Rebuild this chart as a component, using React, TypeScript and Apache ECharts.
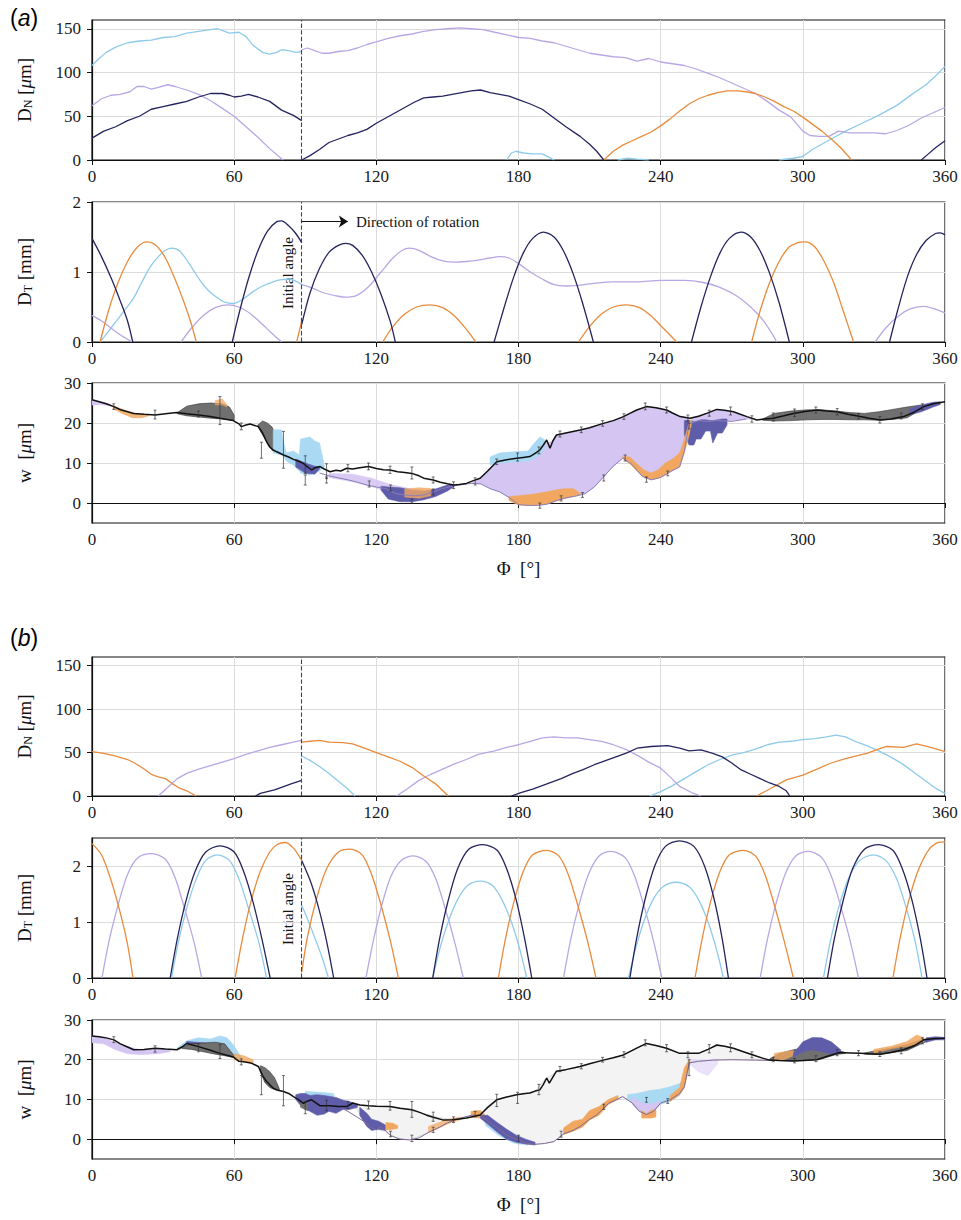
import React, { useEffect, useRef } from "react";
import * as echarts from "echarts";

type P = [number, number];
type B = [number, number, number];

// ---------------- axis ticks ----------------
const X_TICKS = [0, 60, 120, 180, 240, 300, 360];
const DN_TICKS = [0, 50, 100, 150];
const DT_TICKS = [0, 1, 2];
const W_TICKS = [0, 10, 20, 30];
const INITIAL_ANGLE = 88.5;

// ---------------- (a) D_N ----------------
const dnA_blue: P[][] = [
  [[0,108],[3,116],[6,123],[10,129],[15,134],[20,136],[25,137],[30,140],[35,141],[40,145],[45,147],[50,149],[53,150],[56,147],[58,145],[62,146],[65,141],[68,131],[72,123],[75,121],[78,123],[80,126],[83,125],[86,123],[88.5,124]],
  [[175,0],[177,8],[179,10],[182,8],[186,7],[190,7],[193,3],[195,0]],
  [[222,0],[226,2],[230,1],[235,0]],
  [[290,0],[296,2],[300,4],[304,12],[308,18],[312,24],[318,33],[325,42],[332,51],[340,63],[346,75],[352,86],[356,96],[360,107]],
];
const dnA_lav: P[][] = [
  [[0,62],[4,70],[8,74],[12,75],[16,78],[19,84],[22,84],[25,81],[28,83],[32,86],[35,84],[40,80],[45,75],[50,68],[55,59],[60,50],[65,38],[70,26],[75,13],[80.6,0]],
  [[88.5,126],[91,128],[94,125],[97,122],[100,122],[104,124],[108,125],[112,128],[116,132],[120,135],[125,139],[130,142],[135,144],[140,147],[145,149],[150,150],[155,151],[160,150],[165,149],[170,146],[175,143],[180,140],[185,139],[190,136],[195,134],[200,130],[205,126],[210,122],[215,120],[220,118],[225,117],[230,113],[235,116],[240,112],[245,110],[250,108],[255,104],[260,99],[265,94],[270,88],[275,82],[280,76],[285,67],[290,57],[295,49],[300,33],[303,28],[307,27],[311,27],[315,33],[320,31],[325,31],[330,31],[335,30],[340,34],[345,40],[350,48],[355,54],[360,60]],
];
const dnA_navy: P[][] = [
  [[0,25],[5,33],[10,38],[15,45],[20,50],[25,58],[30,61],[35,64],[40,67],[45,72],[50,76],[55,76],[58,74],[60,72],[63,73],[66,75],[70,72],[75,67],[80,57],[85,51],[88.5,45]],
  [[88.5,0],[92,5],[96,12],[100,20],[104,24],[108,28],[112,31],[116,35],[120,42],[124,48],[128,54],[132,60],[136,66],[140,71],[144,72],[148,73],[152,75],[156,77],[160,79],[164,80],[168,77],[172,75],[176,73],[180,69],[185,64],[190,58],[196,46],[200,38],[206,27],[210,18],[213,10],[216,0]],
  [[350,0],[353,7],[356,14],[360,22]],
];
const dnA_orange: P[][] = [
  [[216,0],[220,10],[224,17],[228,22],[232,27],[236,32],[240,39],[244,47],[248,56],[252,64],[256,70],[260,74],[264,77],[268,79],[272,79],[276,78],[280,76],[284,72],[288,67],[292,61],[296,56],[300,49],[304,41],[308,33],[312,24],[316,14],[320.6,0]],
];

// ---------------- (a) D_T ----------------
const dtA_navy: P[][] = [
  [[0,1.48],[4,1.22],[8,0.92],[12,0.58],[15,0.3],[17.2,0]],
  [[59.2,0],[62,0.4],[66,0.9],[70,1.3],[74,1.58],[78,1.72],[80,1.73],[83,1.66],[86,1.55],[88.5,1.42]],
  [[88.5,0.25],[92,0.7],[96,1.05],[100,1.28],[104,1.38],[107,1.41],[110,1.38],[114,1.24],[118,1.0],[122,0.68],[126,0.28],[128,0]],
  [[169.7,0],[174,0.5],[178,0.93],[182,1.27],[186,1.48],[190.5,1.57],[195,1.5],[199,1.3],[203,0.98],[207,0.56],[211.6,0]],
  [[253,0],[257,0.5],[261,0.93],[265,1.27],[269,1.48],[273.9,1.57],[278,1.5],[282,1.3],[286,0.98],[290,0.56],[294.3,0]],
  [[336.6,0],[340,0.45],[344,0.92],[348,1.25],[352,1.45],[356,1.55],[358,1.56],[360,1.53]],
];
const dtA_orange: P[][] = [
  [[3.4,0],[7,0.45],[11,0.85],[15,1.15],[19,1.35],[23,1.43],[27,1.38],[31,1.2],[35,0.9],[39,0.55],[42,0.25],[44,0]],
  [[86.4,0],[88.5,0.3]],
  [[122.7,0],[127,0.22],[132,0.4],[137,0.5],[142.7,0.53],[148,0.49],[153,0.37],[158,0.18],[162,0]],
  [[205.3,0],[210,0.22],[215,0.4],[220,0.5],[225.7,0.53],[231,0.49],[236,0.37],[241,0.2],[246.8,0]],
  [[278.4,0],[282,0.45],[286,0.85],[290,1.15],[294,1.35],[298,1.42],[301,1.43],[305,1.36],[309,1.15],[313,0.85],[317,0.45],[321.4,0]],
];
const dtA_blue: P[][] = [
  [[3.4,0],[8,0.2],[13,0.42],[17.4,0.62],[21,0.85],[24.5,1.07],[28,1.22],[31,1.31],[33.6,1.34],[37,1.3],[41,1.12],[45.6,0.88],[49,0.74],[52.6,0.64],[56,0.57],[59.6,0.55],[64,0.62],[68,0.72],[72,0.8],[76.5,0.86],[80,0.89],[83.6,0.9],[86,0.87],[88.5,0.82]],
];
const dtA_lav: P[][] = [
  [[0,0.38],[4,0.3],[8,0.2],[12,0.1],[17,0]],
  [[37.6,0],[42,0.2],[47,0.38],[52,0.49],[57,0.53],[62,0.5],[67,0.4],[72,0.25],[76,0.12],[80,0]],
  [[88.5,0.82],[93,0.77],[98,0.7],[103,0.66],[107,0.64],[112,0.67],[117,0.8],[122,1.0],[127,1.2],[131,1.31],[134,1.34],[138,1.31],[143,1.22],[148,1.16],[153,1.14],[158,1.15],[163,1.17],[168,1.2],[172,1.22],[176,1.2],[180,1.12],[185,1.0],[190,0.9],[195,0.82],[200,0.8],[205,0.81],[210,0.83],[220,0.86],[230,0.86],[240,0.88],[250,0.88],[258,0.85],[265,0.78],[272,0.66],[278,0.5],[283,0.32],[287,0.12],[289,0]],
  [[330.5,0],[335,0.2],[340,0.36],[345,0.47],[351,0.51],[355,0.48],[360,0.415]],
];

// ---------------- (b) D_N ----------------
const dnB_orange: P[][] = [
  [[0,51],[5,49],[10,46],[15,42],[18,38],[22,31],[25,25],[28,22],[31,20],[34,14],[37,9],[40,6],[44,0]],
  [[88.5,62],[92,63],[96,64],[100,62],[106,61.5],[110,60],[115,55],[120,50],[125,45],[130,40],[135,33],[140,23],[145,14],[150.4,0]],
  [[280.5,0],[286,8],[293,18.5],[300,24],[306,31],[311.6,37.7],[318,43],[327,49],[331,53],[335.4,57],[342.5,56],[348,60],[354,56],[360,51]],
];
const dnB_lav: P[][] = [
  [[28,0],[32,10],[36,20],[40,26],[45,31],[50,35],[55,39],[60,43],[65,48],[70,52],[75,56],[80,59],[85,62],[88.5,64]],
  [[128.5,0],[133,8],[138,18],[143,25],[148,31],[153,37],[158,42],[163,48],[170,52],[175,56],[180,59],[185,63],[190,67],[195,68],[200,67],[205,67],[210,65],[215,63],[220,59],[225,54],[230,47],[235,39],[240,32],[244,22],[248,11],[253,4],[257,0]],
];
const dnB_navy: P[][] = [
  [[69,0],[71,3],[74,5],[77,7],[80,10],[84,14],[88.5,18]],
  [[177,0],[181,4],[186,8],[192,14],[198,20],[203,26],[207,30],[212,36],[217,41],[222,46],[226,50],[230,55],[236,57],[243,58],[248,55],[252,52],[257,53],[262,49],[266,45],[270,38],[274,30],[278,25],[282,20],[286,15],[290,11],[293,6],[294.5,0]],
];
const dnB_blue: P[][] = [
  [[88.5,46],[92,41],[96,34],[100,26],[104,17],[108,8],[111,0]],
  [[235.5,0],[240,5],[245,12],[250,20],[255,28],[260,36],[265,42],[270,47],[275,50],[280,54],[285,59],[290,62],[295,63],[300,65],[305,66],[310,68],[314,70],[318,68],[322,63],[327,58],[332,52],[337,45],[342,37],[347,27],[352,17],[356,9],[360,3]],
];

// ---------------- (b) D_T ----------------
const dtB_orange: P[][] = [
  [[0,2.4],[4,2.2],[8,1.75],[12,1.15],[15,0.6],[17.3,0]],
  [[60.4,0],[63.5,0.7],[67,1.35],[71,1.9],[75,2.25],[78,2.38],[81.5,2.42],[85,2.32],[88.5,2.1]],
  [[88.5,0.1],[91,0.75],[95,1.45],[99,1.95],[104,2.25],[109,2.3],[114,2.2],[118,1.85],[122,1.3],[126,0.65],[129.3,0]],
  [[171.5,0],[174.5,0.7],[178,1.35],[182,1.9],[186,2.2],[192,2.28],[197,2.18],[201,1.85],[205,1.3],[209,0.68],[212.7,0]],
  [[254.5,0],[257.5,0.7],[261,1.35],[265,1.9],[269,2.2],[275,2.28],[280,2.18],[284,1.85],[288,1.3],[292,0.68],[296,0]],
  [[338,0],[341,0.7],[344.5,1.35],[348.5,1.9],[352.5,2.25],[356,2.4],[360,2.43]],
];
const dtB_lav: P[][] = [
  [[4.2,0],[7.3,0.68],[11,1.3],[15,1.85],[19.5,2.15],[25.2,2.22],[31,2.12],[35,1.8],[39,1.25],[43,0.65],[46.3,0]],
  [[115.6,0],[118.7,0.66],[122,1.25],[126,1.8],[130.5,2.1],[135.7,2.18],[141,2.08],[145,1.78],[149,1.25],[153,0.65],[156.7,0]],
  [[199,0],[202,0.68],[205.5,1.3],[209.5,1.85],[214,2.18],[219,2.26],[225,2.15],[229,1.82],[233,1.28],[237,0.66],[240.5,0]],
  [[282,0],[285,0.68],[288.5,1.3],[292.5,1.85],[297,2.18],[302.4,2.26],[308,2.15],[312,1.82],[316,1.28],[320,0.66],[323.5,0]],
];
const dtB_navy: P[][] = [
  [[33,0],[36,0.7],[39.5,1.35],[43.5,1.9],[48,2.25],[54,2.36],[60,2.25],[64,1.9],[68,1.35],[71.7,0.7],[75.2,0]],
  [[88.5,2.1],[92,1.75],[95,1.35],[98,0.85],[100,0.45],[102,0]],
  [[143.8,0],[146.8,0.72],[150.3,1.38],[154.3,1.95],[159,2.3],[165,2.38],[171,2.28],[175,1.95],[179,1.4],[182.5,0.72],[185.6,0]],
  [[227,0],[230,0.74],[233.5,1.42],[237.5,2.0],[242,2.35],[248,2.45],[254,2.35],[258.5,2.0],[262.5,1.42],[265.8,0.74],[268.6,0]],
  [[310.4,0],[313.4,0.72],[317,1.38],[321,1.95],[326,2.3],[332,2.38],[338,2.28],[342,1.95],[346,1.4],[349.5,0.72],[352.4,0]],
];
const dtB_blue: P[][] = [
  [[33.6,0],[36.5,0.65],[40,1.25],[44,1.77],[48,2.1],[52.9,2.2],[58,2.1],[62,1.77],[66,1.25],[70.3,0.65],[73.7,0]],
  [[88.5,1.3],[91,1.05],[94,0.72],[97,0.38],[99.8,0]],
  [[143.8,0],[146.8,0.52],[150.3,1.0],[154.3,1.4],[158.5,1.65],[163.8,1.73],[169,1.65],[173,1.4],[177,1.0],[180.5,0.52],[183.5,0]],
  [[226.4,0],[229.4,0.52],[232.8,1.0],[236.8,1.4],[241,1.63],[246.5,1.71],[252,1.63],[256,1.4],[260,1.0],[263.5,0.52],[266.5,0]],
  [[308.7,0],[311.7,0.67],[315.2,1.27],[319.3,1.78],[324,2.1],[329.8,2.2],[335,2.1],[339.5,1.78],[343.5,1.27],[347.3,0.67],[350.3,0]],
];

// ---------------- (a) w ----------------
const wA_black: P[] = [[0,25.8],[3,25.3],[6,24.8],[9.2,24.1],[12,23.3],[15,22.8],[17.6,22.4],[22,22.2],[26.6,22],[31,22.3],[35.8,22.6],[40,22.3],[44.9,22],[50,21.6],[54,21.2],[57,20.9],[59.6,20.6],[62,19.8],[63,19.1],[65,19.5],[66.7,19.75],[68,19.5],[70.2,19.1],[72,17.5],[73.7,15.3],[75,14],[76.5,13.25],[78,12.8],[80.8,12],[83,11.5],[85,10.9],[87,10.5],[89.2,9.9],[91,9],[92.7,8.25],[94,8.8],[96.3,9.1],[98,8.5],[100.5,7.8],[103,8.2],[105,8],[107.5,8.7],[110,8.5],[113,8.8],[116.7,9.1],[120,8.6],[123,8.3],[125.8,8.25],[129,7.8],[132,7.6],[135,7.4],[138,6.8],[140,6.2],[144,5.75],[147,5.2],[150,4.8],[152.6,4.5],[155,4.6],[158,4.9],[161,5.6],[163.8,6.2],[167,8],[170.8,10.3],[175,10.8],[179.2,11.2],[182,11.4],[184.8,11.6],[187,12.4],[189,13.25],[190.5,14.5],[191.9,15.75],[193.3,13.7],[194.5,15.5],[196,17],[200,17.5],[206,18.25],[210,18.8],[215.8,19.9],[220,20.6],[224.3,21.6],[227,22.4],[229.9,23.25],[234,24.1],[238,23.8],[242.5,23.25],[245,22.5],[248.2,21.6],[252.4,21.2],[256,21.7],[259.4,22.4],[263.7,23.4],[267,23.2],[270.7,22.8],[273,22.3],[276.4,21.6],[280.6,20.75],[284,21],[287.6,21.2],[292,21.8],[296,22.4],[301,22.9],[306,23.25],[310,23],[314.4,22.8],[319,22.2],[324.3,21.6],[328,21.2],[332.7,20.75],[337,21],[342.5,21.6],[347,22.7],[351,24.1],[355,24.8],[360,25.3]];
const wA_lower: P[] = [[96,7.5],[100,6.8],[104,6.3],[108,5.8],[112,5.2],[116,4.5],[120,4],[124,3.6],[128,2.4],[132,2],[136,1.8],[140,2],[144,2.8],[148,3.6],[152,4.2],[156,4.6],[160,4.9],[164,4.8],[168,3.6],[172,2.8],[176,1.4],[180,-0.4],[184,-0.6],[188,-0.6],[192,-0.3],[196,0.6],[200,1.3],[204,1.7],[208,2.3],[212,4],[216,6.6],[220,9.2],[224,11.2],[228,9.6],[232,6.8],[236,5.8],[240,6.4],[244,7.8],[248,9],[250,13],[252,19.8],[256,20.6],[260,20.4],[264,20.6],[270,20.4],[276,21]];
const wA_lav0: B[] = [[0,24.5,25.8],[4,24.6,25.3],[8,24.2,24.6]];
const wA_lav1: B[] = [[160,4.9,4.9],[164,4.8,6.4],[168,3.6,8.8],[172,2.8,10.4],[176,1.4,10.9],[180,-0.4,11.2],[184,-0.6,11.5],[188,-0.6,12.8],[191,-0.4,15],[194,0.4,15.3],[196,0.6,17],[200,1.3,17.5],[204,1.7,18],[208,2.3,18.5],[212,4,19.2],[216,6.6,19.9],[220,9.2,20.6],[224,11.2,21.5],[228,9.6,22.7],[232,6.8,23.7],[236,5.8,24],[240,6.4,23.6],[244,7.8,22.8],[248,9,21.7],[250,13,21.4],[252,19.8,21.2]];
const wA_lav2: B[] = [[253,20.5,21.3],[258,20.5,22.2],[263,20.4,23.3],[268,20.5,23],[274,20.8,22],[278,21,21.2]];
const wA_lav3: B[] = [[100,6.4,7.4],[110,5.3,7.2],[118,4.1,6.2],[126,2.6,4.6],[134,1.7,3.6],[140,2,3.2]];
const wA_gray1: B[] = [[36,22.3,22.6],[40,21.8,24.2],[45,21.5,24.8],[50,21.2,25],[55,21,24.8],[58,20.8,24],[60,20.6,22]];
const wA_gray2: B[] = [[70,19.1,19.5],[72,17,20.5],[74,15,20],[76,13.2,19],[78,12.5,16],[79,12.3,12.6]];
const wA_gray3: B[] = [[283,20.7,21],[288,20.5,22.4],[295,20.6,23],[302,20.8,23.3],[308,20.9,23.3],[314,20.9,23],[320,20.8,22.6],[326,20.8,22.4],[332,20.7,22.8],[338,20.9,23.4],[344,21.3,24],[350,23.4,24.5]];
const wA_blue1: B[] = [[76.5,12.5,18.3],[80,12,18.3],[80.5,12,16],[82,10.5,12.5],[85,9.5,13],[87.5,8,12],[88,7.5,16],[92,7,16.5],[94,7.5,15.5],[96,8,15],[97.5,8.8,11],[98,9,9.2]];
const wA_blue2: B[] = [[168,9.5,11.5],[172,10,12.5],[178,10.2,12.8],[184,10.5,13],[186,11,14.5],[189,12,16.5],[191,13.5,15.8]];
const wA_navy1: B[] = [[122,3.2,4.2],[125,1,4],[130,0.3,3.8],[135,0.3,3.2],[140,0.8,3],[145,1.6,3.5],[150,3,4.5],[153,4.2,4.6]];
const wA_navy2: B[] = [[250,17,20.6],[252,14.5,20.6],[254,14.5,20.4],[255,16,20.4],[257,16,20.8],[259,18,20.8],[261,18,20.6],[262,15,20.6],[264,17.5,20.8],[266,17.5,21],[268,19.5,21]];
const wA_navy3: B[] = [[345,22,23.5],[350,22.8,24.5],[355,24,25.2],[358,24.6,25.3]];
const wA_navy4: B[] = [[86,9,11],[90,7.5,10],[94,7.2,9.2],[96,8.5,9]];
const wA_orange1: B[] = [[176,0.6,1.6],[180,-0.5,1.8],[186,-0.6,2.2],[192,-0.3,2.8],[198,0.9,3.5],[203,1.6,3.6],[206,2.2,2.5]];
const wA_orange2: B[] = [[224,11.2,11.6],[227,9.8,11.5],[230,8,9.8],[233,6.3,8.2],[236,5.8,7.5],[239,6.2,8.3],[242,7,10],[245,8.2,11],[248,9,12.5],[250,12.5,16],[252,17,20],[253,19.8,21]];
const wA_orange3: B[] = [[9,23.5,24.3],[13,22.3,23.4],[17,21.3,22.6],[21,21.3,22.2],[24,21.8,22.1]];
const wA_orange4: B[] = [[52,24.5,25.6],[55,24.5,26],[57,24,24.5]];
const wA_orange5: B[] = [[132,1.5,3.5],[138,1.2,3.8],[143,1.8,3.6]];
const wA_err: B[] = [[9.2,23.4,24.8],[26.6,21,23.2],[44.9,21.5,23],[54,19.6,26.6],[63,18.3,20],[71.5,11.2,15.2],[80.8,8.7,17.9],[90,7.4,11.8],[99,6.1,9.8],[108,7.8,9.6],[116.7,8.3,10],[125.8,7.4,9.2],[135,6,9],[144,5,6.5],[152.6,3.6,5.3],[161.7,4.5,6.3],[170.8,9.6,11],[179.6,10.5,12.5],[188.6,12.3,14],[197.5,16.5,18],[206.5,17.6,19],[215.5,19.2,20.6],[224.5,20.9,22.3],[233.5,23.3,25],[242.5,22.5,24],[251.5,20.5,22],[260.5,21.7,23.2],[269.5,22,24],[278.5,20.2,21.8],[287.5,20.5,22.5],[296.5,21.6,23.5],[305.5,22.5,24],[314.5,22,23.6],[323.5,21,22.4],[332.5,20,21.6],[341.5,21,22.5],[350.5,23.4,24.8],[90,4.5,7],[99,5,6.5],[117,4,5.5],[126,3,4.5],[135,0,1],[144,2,3.5],[189,-1.3,0],[198,0.5,1.8],[207,1.4,2.6],[216,5.5,7],[225,10.5,12],[234,5.2,6.5],[243,6.8,8],[252,18.5,20]];

// ---------------- (b) w ----------------
const wB_black: P[] = [[0,26],[3,25.8],[6,25.5],[9.2,25],[12,24],[15,23.2],[17.6,22.5],[22,22.6],[26.6,22.9],[31,22.7],[35.8,22.5],[38,23.2],[40,24.1],[44.9,23.3],[50,22.4],[54,21.6],[57,21.1],[59.6,20.7],[62,19.6],[64,19.5],[67,19.2],[70.2,18.3],[72,16],[73.7,14.5],[76.5,12.8],[78,12.4],[80.8,12],[83,11.5],[85,10.7],[87,10],[89.2,9],[91,9.6],[92.7,9.9],[96.3,8.4],[100,8.4],[104,8.2],[107.5,8.2],[110,9.1],[113,8.6],[116.7,8.4],[120,8.3],[125.8,8.2],[130,7.8],[135,7.4],[138,6.8],[141,6.1],[144,5.5],[148,4.85],[152,4.9],[155,5.1],[158,5.3],[161,5.7],[163.8,6.1],[167,8],[170.8,9.9],[175,10.6],[179.2,11.2],[182,11.4],[184.8,11.6],[187,12.1],[189,12.4],[190.5,13.8],[191.9,15.4],[193,14.1],[196,17.1],[200,17.5],[206,18.3],[210,19],[215.8,19.9],[220,20.5],[224.3,21.2],[229.9,22.9],[234,24.1],[238,23.6],[242.5,22.9],[248,21.6],[252,21.6],[256,21.6],[260,22.6],[263.7,23.7],[267,23.4],[270.7,22.9],[274,22.2],[279,21.2],[283,20.4],[286,19.9],[290,19.8],[296,19.7],[300,19.8],[306,20],[310,20.8],[315.6,21.8],[320,21.7],[324.3,21.6],[328,21.5],[332.7,21.4],[337,21.8],[342.5,22.5],[347,23.5],[351,25],[355,25.3],[360,25.4]];
const wB_lower: P[] = [[96,8.4],[100,8.3],[104,8.2],[108,7],[112,5.5],[116,4],[118,2.8],[120,2.4],[122,3.2],[124,2],[126,0.9],[130,0],[134,-0.2],[138,0.3],[142,1.7],[146,2.8],[150,4.1],[155,5.2],[160,6],[164,6],[167,4.5],[171,2.9],[175,1],[179,0],[183,-1],[187,-1.3],[191,-1.1],[195,-0.6],[199,1.3],[203,2.2],[206,3.2],[210,5],[213,6.1],[218,9],[224,10.7],[228,9.1],[231,7],[234,6.2],[237,7],[240,9.1],[244,9.9],[248,11.5],[250,13.2],[252,19.2],[256,19.6],[262,19.9],[270,20],[280,19.9],[286,19.8]];
const wB_light1: B[] = [[110,8.9,9.1],[116,4,8.4],[120,2.4,8.3],[124,2,8.2],[128,0.4,8],[134,-0.2,7.4],[140,1.2,6.4],[146,2.8,5.5],[152,4.5,4.9]];
const wB_light2: B[] = [[160,5.8,5.9],[164,6,6.3],[167,4.5,8],[171,2.9,10],[175,1,10.6],[179,0,11.2],[183,-1,11.5],[187,-1.3,12.1],[191,-1.1,15],[195,-0.6,16.5],[199,1.3,17.4],[203,2.2,17.9],[206,3.2,18.3],[210,5,19],[213,6.1,19.4],[218,9,20.2],[224,10.7,21.2],[228,9.1,22.4],[231,7,23.3],[234,6.2,24],[237,7,23.7],[240,9.1,23.3],[244,9.9,22.5],[248,11.5,21.6],[250,13.2,21.6],[252,19.2,21.6],[256,19.6,21.6],[262,19.9,23.2],[267,20,23.4],[272,20,22.6],[278,20,21.4],[283,20,20.4]];
const wB_lav0: B[] = [[0,24.3,26],[5,24,25.6],[10,22.5,24.3],[15,21.5,23.3],[20,21.3,22.6],[28,21.5,22.8],[33,22,22.6]];
const wB_blue0: B[] = [[36,22.5,23],[40,23.5,24.8],[45,23,25.5],[50,23,25.2],[54,22,26],[57,22,25.5],[60,21,23.5],[63,19.8,20.5]];
const wB_navy0: B[] = [[40,24,24.6],[48,23.2,24.2],[56,22.5,23.5]];
const wB_gray1: B[] = [[38,22.8,23.2],[42,22.6,24],[47,22,24.2],[52,21.4,24.4],[56,21,24],[60,20.5,21]];
const wB_gray2: B[] = [[71,17,18.5],[73,14.2,18],[75,13,17],[77,12.5,15.5],[79,12.2,12.8]];
const wB_orange0: B[] = [[60,20,21.5],[64,19.5,21],[68,19,20]];
const wB_navy1: B[] = [[86,10,11.2],[88,8.5,11.5],[90,7.5,11.5],[92,7,11],[95,6,11.2],[98,6.3,11],[100,7,10.8],[103,6.5,10.5],[106,7.5,9.8],[109,7.5,9.4],[112,8,8.6]];
const wB_blue1: B[] = [[90,10.5,12],[96,10,11.8],[102,10,11.5]];
const wB_gray3: B[] = [[88,8,9.5],[91,7.2,9.2]];
const wB_navy2: B[] = [[113,6,8],[116,3.2,6.5],[118,2.2,5],[121,2.5,4.5],[124,2.2,3.5]];
const wB_orange1: B[] = [[124,2.3,4.2],[127,2.5,4],[129,2.7,3.4]];
const wB_orange2: B[] = [[142,1.6,3.2],[150,3.8,5],[156,5,5.6]];
const wB_orange3: B[] = [[160,5.5,7],[164,5.3,7.2],[166,5,6]];
const wB_navy3: B[] = [[164,5.2,6],[167,3.8,6],[171,1.8,4.2],[175,0,2.5],[179,-0.8,1],[183,-1.2,0],[187,-1.5,-0.8]];
const wB_blue2: B[] = [[166,3.5,5],[172,0.8,3.5],[178,-1,0.5],[184,-1.5,-0.5]];
const wB_orange4: B[] = [[199,1.2,2.8],[203,2,4.5],[207,3,5],[210,4.8,7.2],[214,6,8.2],[218,8.8,10],[222,10,11]];
const wB_blue3: B[] = [[226,10.2,11.2],[230,8.5,11.5],[235,8,12.2],[240,8.8,12.6],[244,9.5,13.2],[248,11,14],[250,13,15]];
const wB_lav2: B[] = [[228,8.8,10.5],[231,7,9.5],[234,6.4,8.8],[237,7.1,9],[240,8.8,9.5]];
const wB_orange5: B[] = [[232,5.3,7.2],[234,5.3,6.4],[236,5.3,7.3],[238,5.6,7.5]];
const wB_orange6: B[] = [[244,9.5,11],[248,11.2,13],[250,13,18],[252,18.5,20]];
const wB_lav3: B[] = [[252,19,20.2],[256,17,20],[260,16,20],[264,19,20.2]];
const wB_gray4: B[] = [[286,19.8,20.2],[290,19.8,21.5],[296,19.7,22.5],[302,19.8,23.2],[308,20.2,23],[314,21.3,22.4],[318,21.6,21.8]];
const wB_navy4: B[] = [[296,20.5,21.5],[300,22,24.5],[304,22.5,25.6],[308,22,25.5],[312,21.5,24.5],[316,21.8,22.5]];
const wB_orange7: B[] = [[288,20,21.6],[292,20,22],[296,21,22.3]];
const wB_gray5: B[] = [[326,21.4,21.7],[332,21.3,22.4],[338,21.8,23],[344,22.3,23.8],[350,24,25],[354,25,25.3]];
const wB_orange8: B[] = [[330,21.7,22.6],[338,22.8,23.5],[344,23.3,24.6],[348,24,26.2],[351,24.5,25.5]];
const wB_navy5: B[] = [[352,24.4,25.5],[356,25,25.8],[360,25,25.6]];
const wB_err: B[] = [[9.2,24.3,25.8],[26.6,21.9,23.5],[44.9,22,24],[54,20.3,23.8],[63,18.7,20.2],[71.5,11.2,16],[80.8,8.4,16],[90,6.4,9.5],[99,7.2,9.8],[108,7.6,9.5],[116.7,7.6,9.6],[125.8,7.3,9.5],[135,5.5,9.5],[144,4.5,6.8],[152.6,4.2,5.6],[161.7,5.6,7],[170.8,8.2,11.3],[179.6,9,11.8],[188.6,11.2,13.8],[197.5,17,18.3],[206.5,17.7,19],[215.5,19.4,20.6],[224.5,20.6,22],[233.5,23.5,25],[242.5,22,23.8],[251.5,20.5,22],[260.5,21.7,23.8],[269.5,22,24],[278.5,20.5,22],[287.5,19.5,20.6],[296.5,19.2,20.3],[305.5,19.5,21],[314.5,21,22.5],[323.5,21,22.3],[332.5,20.8,22],[341.5,21.5,23],[350.5,24,25.5],[126,0.6,2],[135,-0.6,1],[144,1.7,3],[180,-0.5,1],[198,0.5,2],[216,7.5,8.8],[234,9.3,10.5],[243,9,10.2],[252,16,20]];

// ---------------- styles ----------------
const FONT = "Liberation Serif";
const SANS = "Liberation Sans";
const NAVY = "#25245e";
const BLUE = "#8ecbea";
const LAV = "#b9a7e4";
const ORANGE = "#e98b3c";
const GRAY_F = "#707070";
const LAV_F = "#d5c5f3";
const ORA_F = "#f1a75f";
const BLUE_F = "#a9d9f3";
const NAVY_F = "#5f5daa";
const LGRAY_F = "#f3f3f3";

type Band = { p: B[]; c: string; o?: number; s?: string };

const BANDS_A: Band[] = [
  { p: wA_lav0, c: LAV_F },
  { p: wA_lav3, c: LAV_F, o: 0.9 },
  { p: wA_lav1, c: LAV_F },
  { p: wA_lav2, c: LAV_F },
  { p: wA_gray1, c: GRAY_F, s: "#333" },
  { p: wA_gray2, c: GRAY_F, s: "#333" },
  { p: wA_gray3, c: GRAY_F, s: "#333" },
  { p: wA_blue1, c: BLUE_F },
  { p: wA_blue2, c: BLUE_F },
  { p: wA_navy4, c: NAVY_F },
  { p: wA_navy1, c: NAVY_F },
  { p: wA_orange5, c: ORA_F, o: 0.8 },
  { p: wA_navy2, c: NAVY_F },
  { p: wA_navy3, c: NAVY_F },
  { p: wA_orange1, c: ORA_F },
  { p: wA_orange2, c: ORA_F },
  { p: wA_orange3, c: ORA_F, o: 0.85 },
  { p: wA_orange4, c: ORA_F, o: 0.7 },
];
const BANDS_B: Band[] = [
  { p: wB_light1, c: LGRAY_F, s: "#c8c8c8" },
  { p: wB_light2, c: LGRAY_F, s: "#c8c8c8" },
  { p: wB_lav0, c: LAV_F },
  { p: wB_blue0, c: BLUE_F },
  { p: wB_navy0, c: NAVY_F },
  { p: wB_gray1, c: GRAY_F, s: "#333" },
  { p: wB_gray2, c: GRAY_F, s: "#333" },
  { p: wB_orange0, c: ORA_F, o: 0.8 },
  { p: wB_blue1, c: BLUE_F },
  { p: wB_navy1, c: NAVY_F },
  { p: wB_gray3, c: GRAY_F },
  { p: wB_navy2, c: NAVY_F },
  { p: wB_orange1, c: ORA_F },
  { p: wB_orange2, c: ORA_F, o: 0.7 },
  { p: wB_orange3, c: ORA_F },
  { p: wB_blue2, c: BLUE_F },
  { p: wB_navy3, c: NAVY_F },
  { p: wB_orange4, c: ORA_F },
  { p: wB_blue3, c: BLUE_F },
  { p: wB_lav2, c: LAV_F },
  { p: wB_orange5, c: ORA_F },
  { p: wB_orange6, c: ORA_F },
  { p: wB_lav3, c: LAV_F, o: 0.5 },
  { p: wB_gray4, c: GRAY_F, s: "#333" },
  { p: wB_orange7, c: ORA_F, o: 0.8 },
  { p: wB_navy4, c: NAVY_F },
  { p: wB_gray5, c: GRAY_F, s: "#333" },
  { p: wB_orange8, c: ORA_F, o: 0.85 },
  { p: wB_navy5, c: NAVY_F },
];

const GRID_TOPS = [20, 202, 383, 657, 838, 1020];
const GRID_HS = [140, 140, 140, 139, 140, 139];

function joinSegs(segs: P[][]): any[] {
  const out: any[] = [];
  segs.forEach((s, i) => {
    if (i) out.push([s[0][0], "-"]);
    s.forEach((q) => out.push(q));
  });
  return out;
}

function lineSeries(segs: P[][], color: string, idx: number, smooth: number | boolean, extra: any = {}) {
  return {
    type: "line",
    xAxisIndex: idx,
    yAxisIndex: idx,
    data: joinSegs(segs),
    symbol: "none",
    showSymbol: false,
    smooth,
    connectNulls: false,
    lineStyle: { color, width: 1.3 },
    itemStyle: { color },
    clip: true,
    z: 3,
    silent: true,
    ...extra,
  };
}

function bandSeries(bands: Band[], idx: number) {
  return {
    type: "custom",
    xAxisIndex: idx,
    yAxisIndex: idx,
    clip: true,
    silent: true,
    z: 2,
    encode: { x: 0, y: 1 },
    data: bands.map((b, i) => [b.p[0][0], b.p[0][1], i]),
    renderItem: (params: any, api: any) => {
      const b = bands[params.dataIndex];
      const top = b.p.map((q) => api.coord([q[0], q[2]]));
      const bot = b.p.slice().reverse().map((q) => api.coord([q[0], q[1]]));
      return {
        type: "polygon",
        shape: { points: top.concat(bot) },
        style: {
          fill: b.c,
          opacity: b.o ?? 1,
          stroke: b.s ?? b.c,
          lineWidth: 0.6,
        },
      };
    },
  };
}

function errSeries(data: B[], idx: number) {
  return {
    type: "custom",
    xAxisIndex: idx,
    yAxisIndex: idx,
    clip: true,
    silent: true,
    z: 5,
    encode: { x: 0, y: [1, 2] },
    data,
    renderItem: (params: any, api: any) => {
      const x = api.value(0);
      const p1 = api.coord([x, api.value(1)]);
      const p2 = api.coord([x, api.value(2)]);
      const st = { stroke: "#333", lineWidth: 0.7 };
      return {
        type: "group",
        children: [
          { type: "line", shape: { x1: p1[0], y1: p1[1], x2: p2[0], y2: p2[1] }, style: st },
          { type: "line", shape: { x1: p1[0] - 1.5, y1: p1[1], x2: p1[0] + 1.5, y2: p1[1] }, style: st },
          { type: "line", shape: { x1: p2[0] - 1.5, y1: p2[1], x2: p2[0] + 1.5, y2: p2[1] }, style: st },
        ],
      };
    },
  };
}

const dashedMark = () => ({
  silent: true,
  symbol: "none",
  label: { show: false },
  lineStyle: { type: "dashed", color: "#444", width: 1.1 },
  data: [{ xAxis: INITIAL_ANGLE }],
});

const nameRich = {
  m: { fontFamily: FONT, fontSize: 19, color: "#111" },
  i: { fontFamily: FONT, fontSize: 19, fontStyle: "italic", color: "#111" },
  s: { fontFamily: FONT, fontSize: 12, color: "#111", verticalAlign: "bottom", padding: [8, 0, 0, 0] },
};

const tickLabel = { fontFamily: FONT, fontSize: 17, color: "#1a1a1a" };

function xAxis(i: number, withName: boolean) {
  return {
    type: "value",
    gridIndex: i,
    min: 0,
    max: 360,
    interval: 60,
    axisLine: { show: true, lineStyle: { color: "#111", width: 1.2 } },
    axisTick: { show: true, length: 5, lineStyle: { color: "#111" } },
    axisLabel: { margin: 8, ...tickLabel },
    splitLine: { show: true, lineStyle: { color: "#dcdcdc", width: 1 } },
    name: withName ? "Φ  [°]" : "",
    nameLocation: "middle",
    nameGap: 36,
    nameTextStyle: { fontFamily: FONT, fontSize: 19, color: "#111" },
  };
}

function yAxis(i: number, min: number, max: number, ticks: number[], name: string, interval?: number) {
  const o: any = {
    type: "value",
    gridIndex: i,
    min,
    max,
    axisLine: { show: true, lineStyle: { color: "#111", width: 1.2 } },
    axisTick: { show: true, length: 5, customValues: ticks, lineStyle: { color: "#111" } },
    axisLabel: {
      margin: 11,
      showMinLabel: min === 0,
      showMaxLabel: ticks[ticks.length - 1] === max,
      ...tickLabel,
    },
    splitLine: { show: true, lineStyle: { color: "#dcdcdc", width: 1 } },
    name,
    nameLocation: "middle",
    nameRotate: 90,
    nameGap: 58,
    nameTextStyle: { fontFamily: FONT, fontSize: 19, color: "#111", rich: nameRich },
  };
  if (interval !== undefined) o.interval = interval;
  else o.splitNumber = 4;
  return o;
}

const DN_NAME = "{m|D}{s|N}{m| [}{i|μ}{m|m]}";
const DT_NAME = "{m|D}{s|T}{m| [mm]}";
const W_NAME = "{m|w  [}{i|μ}{m|m]}";

export default function App() {
  const ref = useRef<HTMLDivElement>(null);
  useEffect(() => {
    if (!ref.current) return;
    const chart = echarts.init(ref.current, undefined, { renderer: "svg" });
    const grids = GRID_TOPS.map((t, i) => ({
      left: 92,
      width: 853,
      top: t,
      height: GRID_HS[i],
      show: true,
      borderColor: "#111",
      borderWidth: 1.2,
      backgroundColor: "transparent",
    }));
    const labelRich = {
      n: { fontFamily: SANS, fontSize: 23, color: "#111" },
      i: { fontFamily: SANS, fontSize: 23, fontStyle: "italic", color: "#111" },
    };
    const option: any = {
      animation: false,
      textStyle: { fontFamily: FONT },
      grid: grids,
      xAxis: [xAxis(0, false), xAxis(1, false), xAxis(2, true), xAxis(3, false), xAxis(4, false), xAxis(5, true)],
      yAxis: [
        yAxis(0, 0, 160, DN_TICKS, DN_NAME, 50),
        yAxis(1, 0, 2, DT_TICKS, DT_NAME, 1),
        yAxis(2, -5, 30, W_TICKS, W_NAME),
        yAxis(3, 0, 160, DN_TICKS, DN_NAME, 50),
        yAxis(4, 0, 2.5, DT_TICKS, DT_NAME, 1),
        yAxis(5, -5, 30, W_TICKS, W_NAME),
      ],
      series: [
        // (a) DN
        lineSeries(dnA_blue, BLUE, 0, false, { markLine: dashedMark() }),
        lineSeries(dnA_lav, LAV, 0, false),
        lineSeries(dnA_orange, ORANGE, 0, false),
        lineSeries(dnA_navy, NAVY, 0, false),
        // (a) DT
        lineSeries(dtA_blue, BLUE, 1, 0.3, { markLine: dashedMark() }),
        lineSeries(dtA_lav, LAV, 1, 0.3),
        lineSeries(dtA_orange, ORANGE, 1, 0.3),
        lineSeries(dtA_navy, NAVY, 1, 0.3, {
          markLine: {
            silent: true,
            symbol: ["none", "arrow"],
            symbolSize: 9,
            lineStyle: { type: "solid", color: "#111", width: 1 },
            label: {
              show: true,
              position: "end",
              formatter: "Direction of rotation",
              fontFamily: FONT,
              fontSize: 15,
              color: "#111",
              distance: 8,
            },
            data: [[{ coord: [INITIAL_ANGLE, 1.72] }, { coord: [108, 1.72] }]],
          },
        }),
        // (a) w
        bandSeries(BANDS_A, 2),
        {
          type: "line", xAxisIndex: 2, yAxisIndex: 2, data: wA_lower, symbol: "none", silent: true,
          lineStyle: { color: "#8c7fb8", width: 1 }, z: 3,
        },
        {
          type: "line", xAxisIndex: 2, yAxisIndex: 2, data: wA_black, symbol: "none", silent: true,
          lineStyle: { color: "#111", width: 1.5 }, z: 4,
        },
        errSeries(wA_err, 2),
        // (b) DN
        lineSeries(dnB_blue, BLUE, 3, false, { markLine: dashedMark() }),
        lineSeries(dnB_lav, LAV, 3, false),
        lineSeries(dnB_orange, ORANGE, 3, false),
        lineSeries(dnB_navy, NAVY, 3, false),
        // (b) DT
        lineSeries(dtB_lav, LAV, 4, 0.3),
        lineSeries(dtB_blue, BLUE, 4, 0.3),
        lineSeries(dtB_orange, ORANGE, 4, 0.3),
        lineSeries(dtB_navy, NAVY, 4, 0.3, { markLine: dashedMark() }),
        // (b) w
        bandSeries(BANDS_B, 5),
        {
          type: "line", xAxisIndex: 5, yAxisIndex: 5, data: wB_lower, symbol: "none", silent: true,
          lineStyle: { color: "#7f6a96", width: 1 }, z: 3,
        },
        {
          type: "line", xAxisIndex: 5, yAxisIndex: 5, data: wB_black, symbol: "none", silent: true,
          lineStyle: { color: "#111", width: 1.5 }, z: 4,
        },
        errSeries(wB_err, 5),
      ],
      graphic: [
        {
          type: "text",
          left: 10,
          top: 6,
          style: { text: "{n|(}{i|a}{n|)}", rich: labelRich },
        },
        {
          type: "text",
          left: 10,
          top: 626,
          style: { text: "{n|(}{i|b}{n|)}", rich: labelRich },
        },
        {
          type: "text",
          x: 288,
          y: 273,
          rotation: Math.PI / 2,
          style: {
            text: "Initial angle",
            font: "15px Liberation Serif",
            fill: "#111",
            align: "center",
            verticalAlign: "middle",
          },
        },
        {
          type: "text",
          x: 288,
          y: 909,
          rotation: Math.PI / 2,
          style: {
            text: "Initial angle",
            font: "15px Liberation Serif",
            fill: "#111",
            align: "center",
            verticalAlign: "middle",
          },
        },
      ],
    };
    chart.setOption(option);
    return () => chart.dispose();
  }, []);
  return (
    <div
      ref={ref}
      style={{ position: "absolute", left: 0, top: 0, width: 961, height: 1220, background: "#fff" }}
    />
  );
}
